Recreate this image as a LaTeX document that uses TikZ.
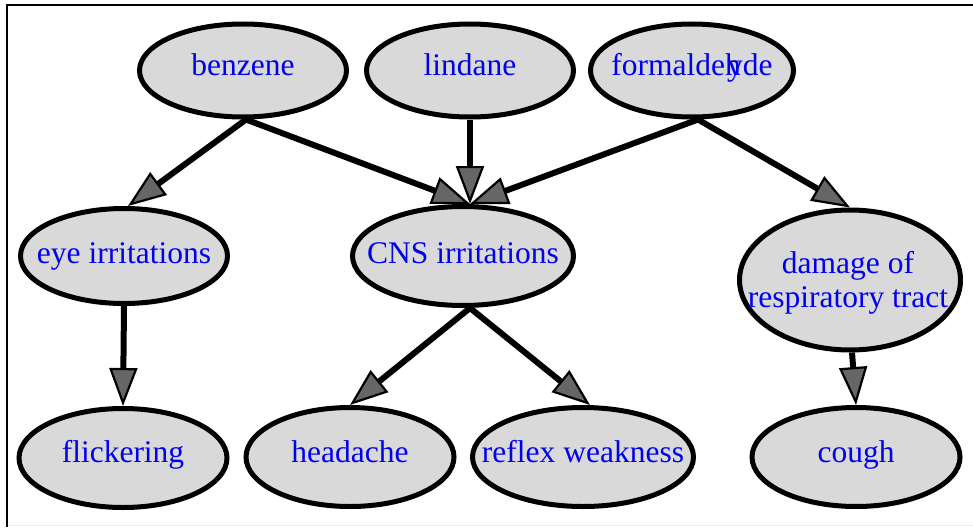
\documentclass[tikz,border=0pt]{standalone}
\usepackage{fontspec}
\setmainfont{Liberation Serif}
\usetikzlibrary{shapes.geometric,arrows.meta}
\definecolor{nodegray}{HTML}{D9D9D9}
\definecolor{tipgray}{HTML}{666666}
\definecolor{labelblue}{HTML}{0000F0}
\begin{document}
\begin{tikzpicture}[x=1pt,y=-1pt,
  bubble/.style={ellipse,draw=black,line width=5pt,fill=nodegray,inner sep=0pt},
  lbl/.style={text=labelblue,font=\fontsize{31.5}{34}\selectfont,anchor=base,inner sep=0pt},
  link/.style={line width=6pt,-{Triangle[length=38pt,width=28pt,line width=2.2pt,fill=tipgray]}}]
\useasboundingbox (0,0) rectangle (973,527);
% frame
\draw[line width=2.2pt] (7,527) -- (7,5) -- (973,5);
\draw[black!8,line width=1.5pt] (8,525.5) -- (973,525.5);
% nodes
\node[bubble,minimum width=207pt,minimum height=93pt] (benzene) at (243,70.5) {};
\node[bubble,minimum width=207pt,minimum height=93pt] (lindane) at (470,70.5) {};
\node[bubble,minimum width=203pt,minimum height=93pt] (formal) at (692,70.5) {};
\node[bubble,minimum width=207pt,minimum height=95pt] (eye) at (124,256) {};
\node[bubble,minimum width=221pt,minimum height=99pt] (CNS) at (463,256) {};
\node[bubble,minimum width=221pt,minimum height=140pt] (damage) at (850,280) {};
\node[bubble,minimum width=208pt,minimum height=99pt] (flick) at (123,458) {};
\node[bubble,minimum width=208pt,minimum height=99pt] (head) at (350,457) {};
\node[bubble,minimum width=221pt,minimum height=99pt] (reflex) at (583,457) {};
\node[bubble,minimum width=208pt,minimum height=99pt] (cough) at (856,457) {};
% labels
\node[lbl] (benzeneT) at ([yshift=-5pt]benzene.center) {benzene};
\node[lbl] (lindaneT) at ([yshift=-5pt]lindane.center) {lindane};
\node[lbl] (formalT) at ([yshift=-5pt]formal.center) {formaldeh\kern-0.44em yde};
\node[lbl] (eyeT) at ([yshift=-7pt]eye.center) {eye irritations};
\node[lbl] (CNST) at ([yshift=-7pt]CNS.center) {CNS irritations};
\node[lbl,anchor=center,align=center] (damageT) at (848,283) {damage of\\respiratory tract};
\node[lbl] (flickT) at ([yshift=-4pt]flick.center) {flickering};
\node[lbl] (headT) at ([yshift=-5pt]head.center) {headache};
\node[lbl] (reflexT) at ([yshift=-5pt]reflex.center) {reflex weakness};
\node[lbl] (coughT) at ([yshift=-5pt]cough.center) {cough};
% connectors
\draw[link] ([xshift=3pt]benzene.south) -- ([xshift=4pt]eye.north);
\draw[link] ([xshift=3pt]benzene.south) -- ([xshift=7pt]CNS.north);
\draw[link] (lindane.south) -- ([xshift=7pt]CNS.north);
\draw[link] ([xshift=6pt]formal.south) -- ([xshift=7pt]CNS.north);
\draw[link] ([xshift=6pt]formal.south) -- (damage.north);
\draw[link] (eye.south) -- (flick.north);
\draw[link] ([xshift=7pt]CNS.south) -- (head.north);
\draw[link] ([xshift=7pt]CNS.south) -- ([xshift=7pt]reflex.north);
\draw[link] ([xshift=2pt]damage.south) -- (cough.north);
\end{tikzpicture}
\end{document}
